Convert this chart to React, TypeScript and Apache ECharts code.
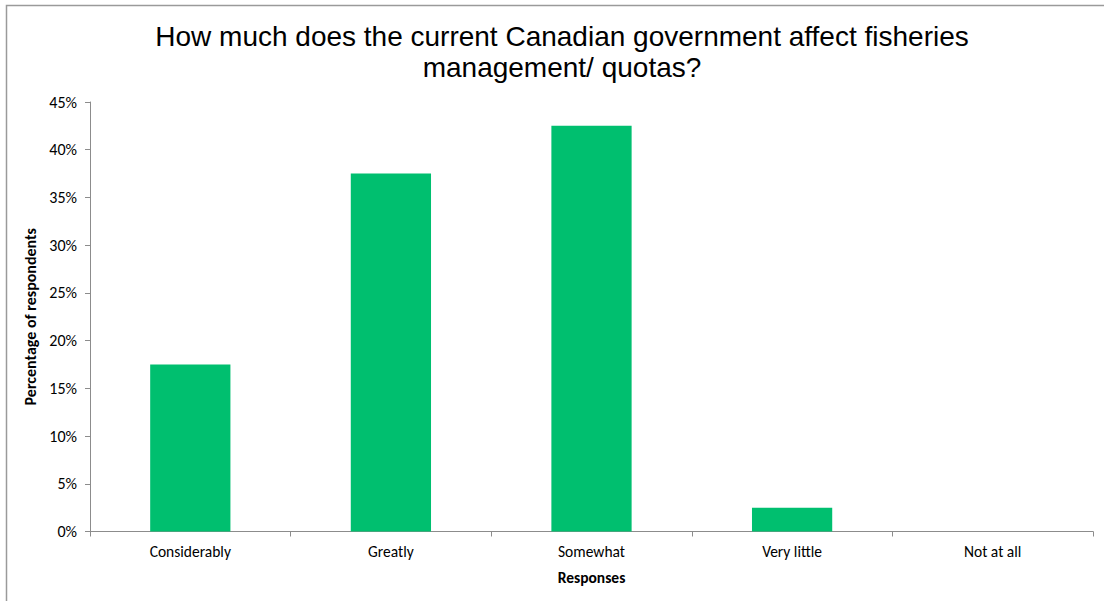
import React, { useEffect, useRef } from "react";
import * as echarts from "echarts";

const titleLines = [
  "How much does the current Canadian government affect fisheries",
  "management/ quotas?",
];
const categories = ["Considerably", "Greatly", "Somewhat", "Very little", "Not at all"];
const values = [0.175, 0.375, 0.425, 0.025, 0];
const yAxisTitle = "Percentage of respondents";
const xAxisTitle = "Responses";

export default function App() {
  const ref = useRef<HTMLDivElement>(null);
  useEffect(() => {
    document.body.style.margin = "0";
    const chart = echarts.init(ref.current!, undefined, { renderer: "svg" });
    const labelFont = "Carlito, Lato, 'Open Sans', sans-serif";
    chart.setOption({
      animation: false,
      backgroundColor: "#ffffff",
      title: {
        text: titleLines.join("\n"),
        left: 557,
        textAlign: "center",
        top: 16,
        textStyle: {
          fontFamily: "'Liberation Sans Narrow', 'Liberation Sans', Arial, sans-serif",
          fontSize: 28,
          lineHeight: 31,
          fontWeight: "normal",
          color: "#000",
        },
      },
      graphic: [
        {
          type: "rect",
          shape: { x: 6.5, y: 5.5, width: 1120, height: 620 },
          style: { fill: "none", stroke: "#9a9a9a", lineWidth: 1.5 },
          silent: true,
        },
      ],
      grid: { left: 90, right: 11, top: 102, bottom: 69.5, containLabel: false },
      xAxis: {
        type: "category",
        data: categories,
        name: xAxisTitle,
        nameLocation: "middle",
        nameGap: 38,
        nameTextStyle: { fontFamily: labelFont, fontSize: 15.5, fontWeight: "bold", color: "#000" },
        axisLine: { lineStyle: { color: "#8c8c8c", width: 1 } },
        axisTick: { show: true, alignWithLabel: false, length: 5, lineStyle: { color: "#8c8c8c" } },
        axisLabel: { fontFamily: labelFont, fontSize: 15.5, color: "#000", margin: 12, interval: 0 },
        splitLine: { show: false },
      },
      yAxis: {
        type: "value",
        min: 0,
        max: 0.45,
        interval: 0.05,
        name: yAxisTitle,
        nameLocation: "middle",
        nameGap: 46,
        nameTextStyle: { fontFamily: labelFont, fontSize: 16, fontWeight: "bold", color: "#000" },
        axisLine: { show: true, lineStyle: { color: "#8c8c8c", width: 1 } },
        axisTick: { show: true, length: 5, lineStyle: { color: "#8c8c8c" } },
        axisLabel: {
          fontFamily: labelFont,
          fontSize: 16,
          color: "#000",
          margin: 13,
          formatter: (v: number) => `${Math.round(v * 100)}%`,
        },
        splitLine: { show: false },
      },
      series: [
        {
          type: "bar",
          data: values,
          barWidth: "40%",
          itemStyle: { color: "#00bf6f" },
        },
      ],
    });
    return () => chart.dispose();
  }, []);
  return <div ref={ref} style={{ width: 1104, height: 601 }} />;
}
